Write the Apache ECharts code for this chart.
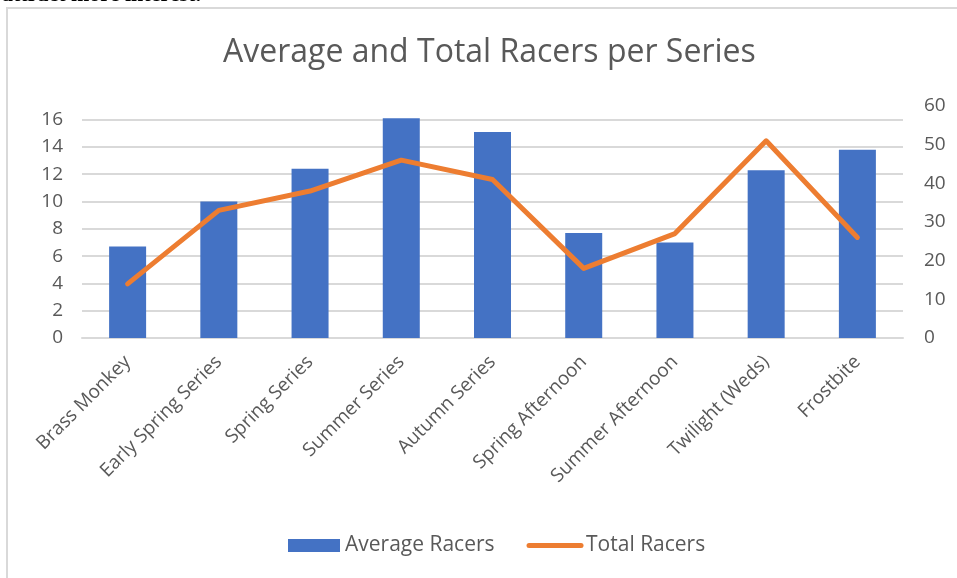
<!DOCTYPE html>
<html>
<head>
<meta charset="utf-8">
<script src="https://cdn.jsdelivr.net/npm/echarts@6/dist/echarts.min.js"></script>
<style>
  html, body { margin: 0; padding: 0; background: #fff; }
  #main { width: 957px; height: 578px; }
</style>
</head>
<body>
<div id="main"></div>
<script>
const categories = [
  'Brass Monkey', 'Early Spring Series', 'Spring Series', 'Summer Series', 'Autumn Series',
  'Spring Afternoon', 'Summer Afternoon', 'Twilight (Weds)', 'Frostbite'
];
const averageRacers = [6.7, 10.0, 12.4, 16.1, 15.1, 7.7, 7.0, 12.3, 13.8];
const totalRacers = [14, 33, 38, 46, 41, 18, 27, 51, 26];

const textColor = '#595959';
const font = 'Open Sans';

const chart = echarts.init(document.getElementById('main'));

const option = {
  animation: false,
  backgroundColor: '#fff',
  textStyle: { fontFamily: font },
  title: {
    text: 'Average and Total Racers per Series',
    left: 218,
    top: 32,
    textStyle: { color: textColor, fontSize: 32, fontWeight: 'normal', fontFamily: font }
  },
  graphic: [
    {
      type: 'rect',
      shape: { x: 7, y: 8, width: 970, height: 600 },
      style: { fill: 'none', stroke: '#d9d9d9', lineWidth: 2 },
      silent: true
    },
    {
      type: 'text',
      left: 2,
      top: -16,
      style: { text: 'attract more interest.', font: 'bold 22px "Liberation Serif"', fill: '#000' }
    }
  ],
  legend: {
    bottom: 17,
    left: 283,
    itemWidth: 52,
    itemHeight: 13,
    itemGap: 32,
    textStyle: { color: textColor, fontSize: 21, fontFamily: font },
    data: [
      { name: 'Average Racers', icon: 'rect' },
      {
        name: 'Total Racers',
        itemStyle: { color: 'rgba(0,0,0,0)', borderWidth: 0 },
        lineStyle: { width: 5, cap: 'round' }
      }
    ]
  },
  grid: { left: 82, right: 54, top: 106, bottom: 240, containLabel: false },
  xAxis: {
    type: 'category',
    data: categories,
    axisLine: { lineStyle: { color: '#d9d9d9', width: 2 } },
    axisTick: { show: false },
    axisLabel: { rotate: 45, color: textColor, fontSize: 19, margin: 21, interval: 0, fontFamily: font }
  },
  yAxis: [
    {
      type: 'value',
      min: 0,
      max: 17,
      interval: 2,
      axisLine: { show: false },
      axisTick: { show: false },
      axisLabel: { color: textColor, fontSize: 19, margin: 19, showMaxLabel: false, fontFamily: font },
      splitLine: { show: true, showMaxLine: false, lineStyle: { color: '#d9d9d9', width: 2 } }
    },
    {
      type: 'value',
      position: 'right',
      min: 0,
      max: 60,
      interval: 10,
      axisLine: { show: false },
      axisTick: { show: false },
      axisLabel: { color: textColor, fontSize: 19, margin: 21, fontFamily: font },
      splitLine: { show: false }
    }
  ],
  series: [
    {
      name: 'Average Racers',
      type: 'bar',
      data: averageRacers,
      barWidth: 37,
      itemStyle: { color: '#4472C4' }
    },
    {
      name: 'Total Racers',
      type: 'line',
      yAxisIndex: 1,
      data: totalRacers,
      symbol: 'none',
      lineStyle: { color: '#ED7D31', width: 5, cap: 'round', join: 'round' },
      itemStyle: { color: '#ED7D31' }
    }
  ]
};

chart.setOption(option);
</script>
</body>
</html>
